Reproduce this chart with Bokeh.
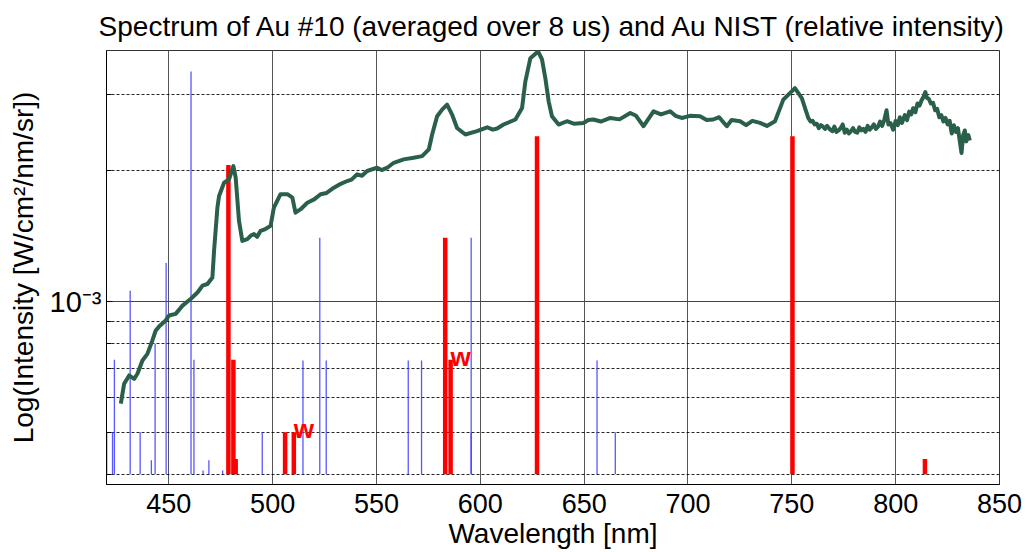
from bokeh.plotting import figure
from bokeh.models import Range1d, FixedTicker
from bokeh.core.properties import value
from bokeh.embed import file_html
from bokeh.resources import INLINE

# ---------------- data ----------------
# measured spectrum (wavelength in nm, intensity in units of 1e-3 W/cm^2/nm/sr)
spec_wl = [426.9, 428.5, 430.9, 433.3, 434.9, 437.3, 439.7, 442.1, 443.7, 445.3, 448.5, 450.1,
           453.3, 456.6, 460.5, 463.8, 466.2, 468.6, 471.0, 471.8, 473.4, 474.2, 476.6, 479.0,
           481.1, 482.2, 483.8, 485.4, 487.8, 489.5, 491.0, 492.5, 494.2, 496.5, 499.0, 500.6,
           503.8, 507.1, 509.5, 511.0, 513.5, 516.7, 520.0, 523.1, 526.0, 529.5, 532.0, 535.9,
           538.0, 540.7, 543.0, 545.5, 550.3, 552.5, 555.2, 558.3, 563.1, 567.9, 572.0, 575.2,
           576.8, 579.2, 581.6, 584.0, 586.4, 588.8, 592.8, 598.4, 603.3, 606.0, 608.1, 611.2,
           616.9, 620.1, 621.7, 624.1, 627.8, 629.7, 631.3, 632.9, 634.5, 637.7, 641.7, 645.0,
           649.7, 652.0, 654.5, 658.0, 662.6, 667.0, 672.2, 675.0, 678.6, 683.4, 687.0, 691.4,
           694.0, 697.0, 701.0, 705.8, 709.0, 712.2, 715.0, 718.7, 721.0, 725.1, 728.0, 731.0,
           734.7, 738.0, 741.9, 745.9, 749.1, 751.5, 754.8,
           757.9, 759.0, 760.0, 761.0, 762.0, 763.0, 764.0, 765.0, 766.0, 767.0, 768.5, 769.5,
           770.5, 771.5, 772.5, 773.5, 774.5, 775.5, 776.5, 777.5, 778.5, 779.5, 780.5, 781.5,
           782.5, 783.5, 784.5, 785.5, 786.5, 787.5, 788.5, 789.5, 790.5, 791.5, 792.5, 793.5,
           794.5, 795.6, 796.5, 797.5, 798.8, 800.0, 801.0, 802.0, 803.0, 804.4, 805.5, 806.5,
           807.5, 808.4, 809.5, 810.5, 811.5, 812.5, 813.5, 814.3, 815.0, 816.0, 817.0, 818.0,
           819.0, 820.0, 821.0, 822.0, 823.0, 824.0, 825.0, 826.0, 827.0, 828.0, 829.0, 830.0,
           831.0, 831.7, 832.5, 833.3, 834.0, 835.0, 835.7]
spec_int_e3 = [0.582, 0.647, 0.676, 0.664, 0.682, 0.732, 0.758, 0.814, 0.858, 0.876, 0.905, 0.929,
               0.937, 0.979, 1.014, 1.050, 1.088, 1.098, 1.137, 1.310, 1.646, 1.752, 1.879, 1.913,
               2.053, 1.930, 1.535, 1.380, 1.393, 1.420, 1.431, 1.410, 1.456, 1.470, 1.495, 1.646,
               1.768, 1.768, 1.736, 1.603, 1.633, 1.690, 1.720, 1.768, 1.780, 1.830, 1.860, 1.896,
               1.910, 1.965, 1.950, 2.000, 2.035, 2.010, 2.035, 2.089, 2.127, 2.145, 2.164, 2.242,
               2.427, 2.674, 2.770, 2.844, 2.698, 2.513, 2.427, 2.470, 2.522, 2.490, 2.505, 2.559,
               2.628, 2.793, 3.218, 3.639, 3.771, 3.614, 3.274, 2.894, 2.674, 2.559, 2.604, 2.570,
               2.581, 2.620, 2.628, 2.600, 2.650, 2.630, 2.721, 2.680, 2.536, 2.745, 2.700, 2.745,
               2.680, 2.650, 2.680, 2.674, 2.620, 2.628, 2.660, 2.536, 2.620, 2.604, 2.550, 2.610,
               2.581, 2.540, 2.604, 2.920, 3.024, 3.105, 2.945,
               2.650, 2.600, 2.610, 2.560, 2.570, 2.510, 2.550, 2.530, 2.500, 2.540, 2.490, 2.470,
               2.530, 2.460, 2.480, 2.510, 2.560, 2.450, 2.490, 2.440, 2.470, 2.510, 2.460, 2.450,
               2.520, 2.480, 2.500, 2.460, 2.540, 2.490, 2.520, 2.560, 2.500, 2.530, 2.600, 2.540,
               2.620, 2.760, 2.560, 2.580, 2.490, 2.610, 2.550, 2.660, 2.580, 2.690, 2.620, 2.740,
               2.700, 2.790, 2.730, 2.860, 2.830, 2.910, 2.970, 3.040, 2.950, 2.930, 2.860, 2.870,
               2.760, 2.780, 2.660, 2.690, 2.600, 2.650, 2.560, 2.610, 2.440, 2.550, 2.460, 2.510,
               2.320, 2.200, 2.420, 2.480, 2.340, 2.420, 2.350]

# NIST lines (relative intensity, scaled to the same axis, units of 1e-3)
nist_base_e3 = 0.4
red_wl = [478.7, 481.1, 482.2, 506.0, 510.2, 583.1, 585.7, 627.3, 750.3, 814.1]
red_int_e3 = [2.064, 0.735, 0.434, 0.500, 0.500, 1.403, 0.735, 2.406, 2.406, 0.434]
w_marked = [4, 6]  # red lines tagged "w"
blue_wl = [420.1, 422.9, 423.8, 431.4, 436.2, 441.6, 443.4, 448.7, 460.7, 462.1, 466.5, 469.3,
           475.9, 495.0, 514.6, 522.7, 525.8, 565.3, 571.7, 595.6, 595.6, 656.2, 665.0]
blue_int_e3 = [0.500, 0.500, 0.735, 1.060, 0.500, 0.431, 0.800, 1.227, 3.390, 0.735, 0.408, 0.431,
               0.408, 0.500, 0.732, 1.403, 0.732, 0.732, 0.732, 1.403, 0.500, 0.732, 0.500]

x_ticks = [450, 500, 550, 600, 650, 700, 750, 800, 850]
y_major = [1e-3]
y_minor = [4e-4, 5e-4, 6e-4, 7e-4, 8e-4, 9e-4, 2e-3, 3e-3]

TITLE = "Spectrum of Au #10 (averaged over 8 us) and Au NIST (relative intensity)"

E = 1e-3
spec_int = [v * E for v in spec_int_e3]
red_int = [v * E for v in red_int_e3]
blue_int = [v * E for v in blue_int_e3]
base = nist_base_e3 * E

FONT = "Liberation Sans"

p = figure(width=1026, height=552, x_range=Range1d(420, 850),
           y_range=Range1d(3.79e-4, 3.79e-3), y_axis_type="log",
           output_backend="svg", toolbar_location=None,
           min_border_left=106, min_border_right=27, min_border_top=0, min_border_bottom=68,
           title=TITLE)
p.background_fill_color = "white"
p.border_fill_color = "white"
p.outline_line_color = "black"
p.outline_line_alpha = 0.8

p.title.text_font = FONT
p.title.text_font_size = "28px"
p.title.text_font_style = "normal"
p.title.text_color = "black"
p.title.align = "center"
p.title.vertical_align = "bottom"
p.title.standoff = 17

xt = FixedTicker(ticks=x_ticks, minor_ticks=[])
yt = FixedTicker(ticks=y_major, minor_ticks=y_minor)
p.xaxis.ticker = xt
p.yaxis.ticker = yt
p.xgrid.ticker = xt
p.ygrid.ticker = yt

p.xgrid.grid_line_color = "#555555"
p.xgrid.grid_line_width = 1
p.ygrid.grid_line_color = "#444444"
p.ygrid.grid_line_width = 1
p.ygrid.minor_grid_line_color = "black"
p.ygrid.minor_grid_line_dash = "3 2"
p.ygrid.minor_grid_line_alpha = 0.85

for ax in (p.xaxis[0], p.yaxis[0]):
    ax.axis_line_color = "black"
    ax.major_label_text_font = FONT
    ax.major_label_text_font_size = "27px"
    ax.major_label_text_color = "black"
    ax.axis_label_text_font = FONT
    ax.axis_label_text_font_size = "28px"
    ax.axis_label_text_font_style = "normal"
    ax.axis_label_text_color = "black"
    ax.major_tick_out = 0
    ax.minor_tick_out = 0

p.xaxis.major_tick_in = 0
p.xaxis.minor_tick_in = 0
p.xaxis.major_label_standoff = 9
p.xaxis.axis_label = "Wavelength [nm]"
p.xaxis.axis_label_standoff = 2

p.yaxis.major_tick_in = 6
p.yaxis.minor_tick_in = 5
p.yaxis.major_label_standoff = 5
p.yaxis.major_label_text_font_size = "29px"
p.yaxis.major_label_overrides = {1e-3: "10\u207b\u00b3"}
p.yaxis.axis_label = "Log(Intensity [W/cm\u00b2/nm/sr])"
p.yaxis.axis_label_standoff = 8

# NIST lines
p.segment(x0=blue_wl, y0=[base] * len(blue_wl), x1=blue_wl, y1=blue_int,
          line_color="#3a3aff", line_width=1.3, line_alpha=0.85)
p.segment(x0=red_wl, y0=[base] * len(red_wl), x1=red_wl, y1=red_int,
          line_color="#ff0000", line_width=4.5)

# measured spectrum
p.line(spec_wl, spec_int, line_color="#2a6049", line_width=4, line_join="round")

# "w" tags
p.text(x=[red_wl[i] for i in w_marked], y=[red_int[i] for i in w_marked],
       text=["w"] * len(w_marked), text_color="#ff0000", text_font=value(FONT),
       text_font_size="26px", text_font_style="bold", text_baseline="alphabetic",
       text_align="left", x_offset=0, y_offset=-3)

open("out.html", "w").write(file_html(p, INLINE))
